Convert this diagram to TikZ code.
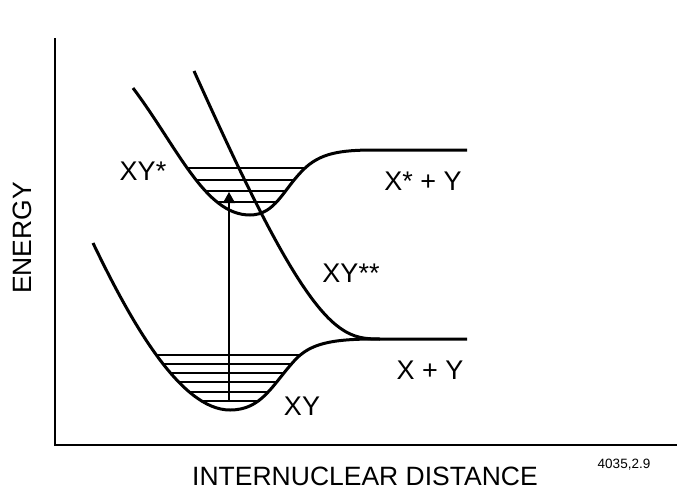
\documentclass[tikz,border=0pt]{standalone}
\usepackage{fontspec}
\setmainfont{Liberation Sans}
\usetikzlibrary{arrows.meta}
\begin{document}
\begin{tikzpicture}[x=1pt,y=-1pt,
  curve/.style={line width=3pt,line join=round},
  axisline/.style={line width=2.4pt},
  level/.style={line width=1.4pt},
  lbl/.style={font=\fontsize{27}{32}\selectfont,inner sep=0pt},
  axlbl/.style={font=\fontsize{26.5}{30}\selectfont,inner sep=0pt},
  note/.style={font=\fontsize{13.5}{16}\selectfont,inner sep=0pt}]
\useasboundingbox (0,0) rectangle (677,493);
% axes
\coordinate (ytop) at (55,38);
\coordinate (origin) at (55,445);
\coordinate (xend) at (677,445);
\draw[axisline] (ytop) -- (origin) -- (xend);
% vibrational levels, lower well
\begin{scope}
\clip (93,243) .. controls (130,320) and (180,410) .. (230,410) .. controls (262,410) and (272,385) .. (295,360) .. controls (310,344) and (330,339) .. (375,339) -- (467,339) -- cycle;
\foreach \yy in {355,364,373,382,392,401} \draw[level] (80,\yy) -- (400,\yy);
\end{scope}
% vibrational levels, upper well
\begin{scope}
\clip (133,88) .. controls (178,148) and (205,215) .. (250,215) .. controls (275,215) and (283,190) .. (303,170) .. controls (320,153) and (340,150) .. (375,150) -- (467,150) -- cycle;
\foreach \yy in {168,180,191,202} \draw[level] (120,\yy) -- (400,\yy);
\end{scope}
% curves
\draw[curve] (93,243) .. controls (130,320) and (180,410) .. (230,410) .. controls (262,410) and (272,385) .. (295,360) .. controls (310,344) and (330,339) .. (375,339) -- (467,339);
\draw[curve] (133,88) .. controls (178,148) and (205,215) .. (250,215) .. controls (275,215) and (283,190) .. (303,170) .. controls (320,153) and (340,150) .. (375,150) -- (467,150);
\draw[curve] (194,71) .. controls (250,195) and (300,300) .. (340,328) .. controls (354,338) and (365,339) .. (380,339);
% transition arrow
\coordinate (abase) at (229,401);
\coordinate (atip) at (229,192);
\draw[line width=1.3pt,-{Triangle[width=12pt,length=11pt]}] (abase) -- (atip);
% labels
\node[lbl] (xys) at (143,171) {XY*};
\node[lbl] (xsy) at (423,181) {X* + Y};
\node[lbl] (xyss) at (351,273) {XY**};
\node[lbl] (xpy) at (430,370) {X + Y};
\node[lbl] (xy) at (302,406) {XY};
\node[axlbl,rotate=90] (energy) at (22,238) {ENERGY};
\node[axlbl] (dist) at (365,476) {INTERNUCLEAR DISTANCE};
\node[note] (code) at (624,465) {4035,2.9};
\end{tikzpicture}
\end{document}
